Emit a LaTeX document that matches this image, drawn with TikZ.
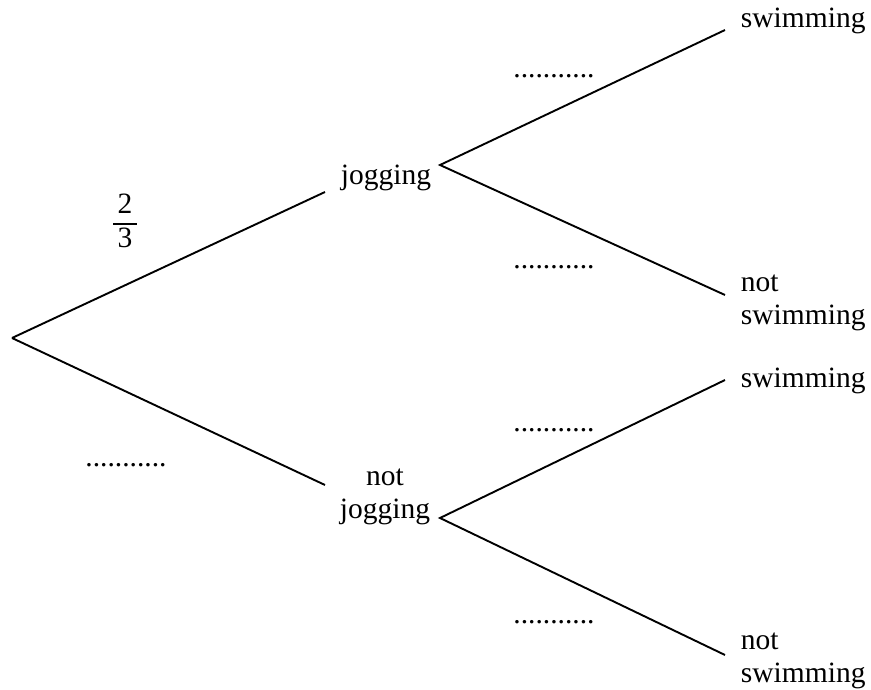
\documentclass[tikz,border=0pt]{standalone}
\usepackage{amsmath}
\usepackage{fontspec}
\setmainfont{Liberation Serif}
\begin{document}
\begin{tikzpicture}[x=1pt,y=-1pt,line width=1.9pt,
  lbl/.style={inner sep=0pt, font=\fontsize{29.5}{32.5}\selectfont, align=left},
  gap/.style={inner sep=0pt, font=\fontsize{29.5}{33.5}\selectfont}]
\useasboundingbox (0,0) rectangle (871,690);

% branch points
\coordinate (root) at (12,338);
\coordinate (jogIn) at (325,192);
\coordinate (jogOut) at (440,165);
\coordinate (njogIn) at (325,485);
\coordinate (njogOut) at (440,518);
\coordinate (swA) at (725,30);
\coordinate (nswA) at (725,295);
\coordinate (swB) at (725,380);
\coordinate (nswB) at (725,655);

% branches
\draw (root) -- (jogIn);
\draw (root) -- (njogIn);
\draw (swA) -- (jogOut) -- (nswA);
\draw (swB) -- (njogOut) -- (nswB);

% outcomes (multi-line nodes sit on their last baseline)
\node (jog) [lbl, anchor=base west] at (340,185) {jogging};
\node (njog) [lbl, anchor=base, align=center] at (385,518) {not\\jogging};
\node (swimA) [lbl, anchor=base west] at (740,28) {swimming};
\node (nswimA) [lbl, anchor=base west] at (740,324) {not\\swimming};
\node (swimB) [lbl, anchor=base west] at (740,387) {swimming};
\node (nswimB) [lbl, anchor=base west] at (740,682) {not\\swimming};

% probabilities
\node (pjog) [gap] at (125,221) {$\genfrac{}{}{1.3pt}{0}{\,\text{2}\,}{\,\text{3}\,}$};
\node (pnjog) [gap, anchor=base] at (126,466) {...........};
\node (pswA) [gap, anchor=base] at (554,78) {...........};
\node (pnswA) [gap, anchor=base] at (554,269) {...........};
\node (pswB) [gap, anchor=base] at (554,431) {...........};
\node (pnswB) [gap, anchor=base] at (554,623) {...........};
\end{tikzpicture}
\end{document}
